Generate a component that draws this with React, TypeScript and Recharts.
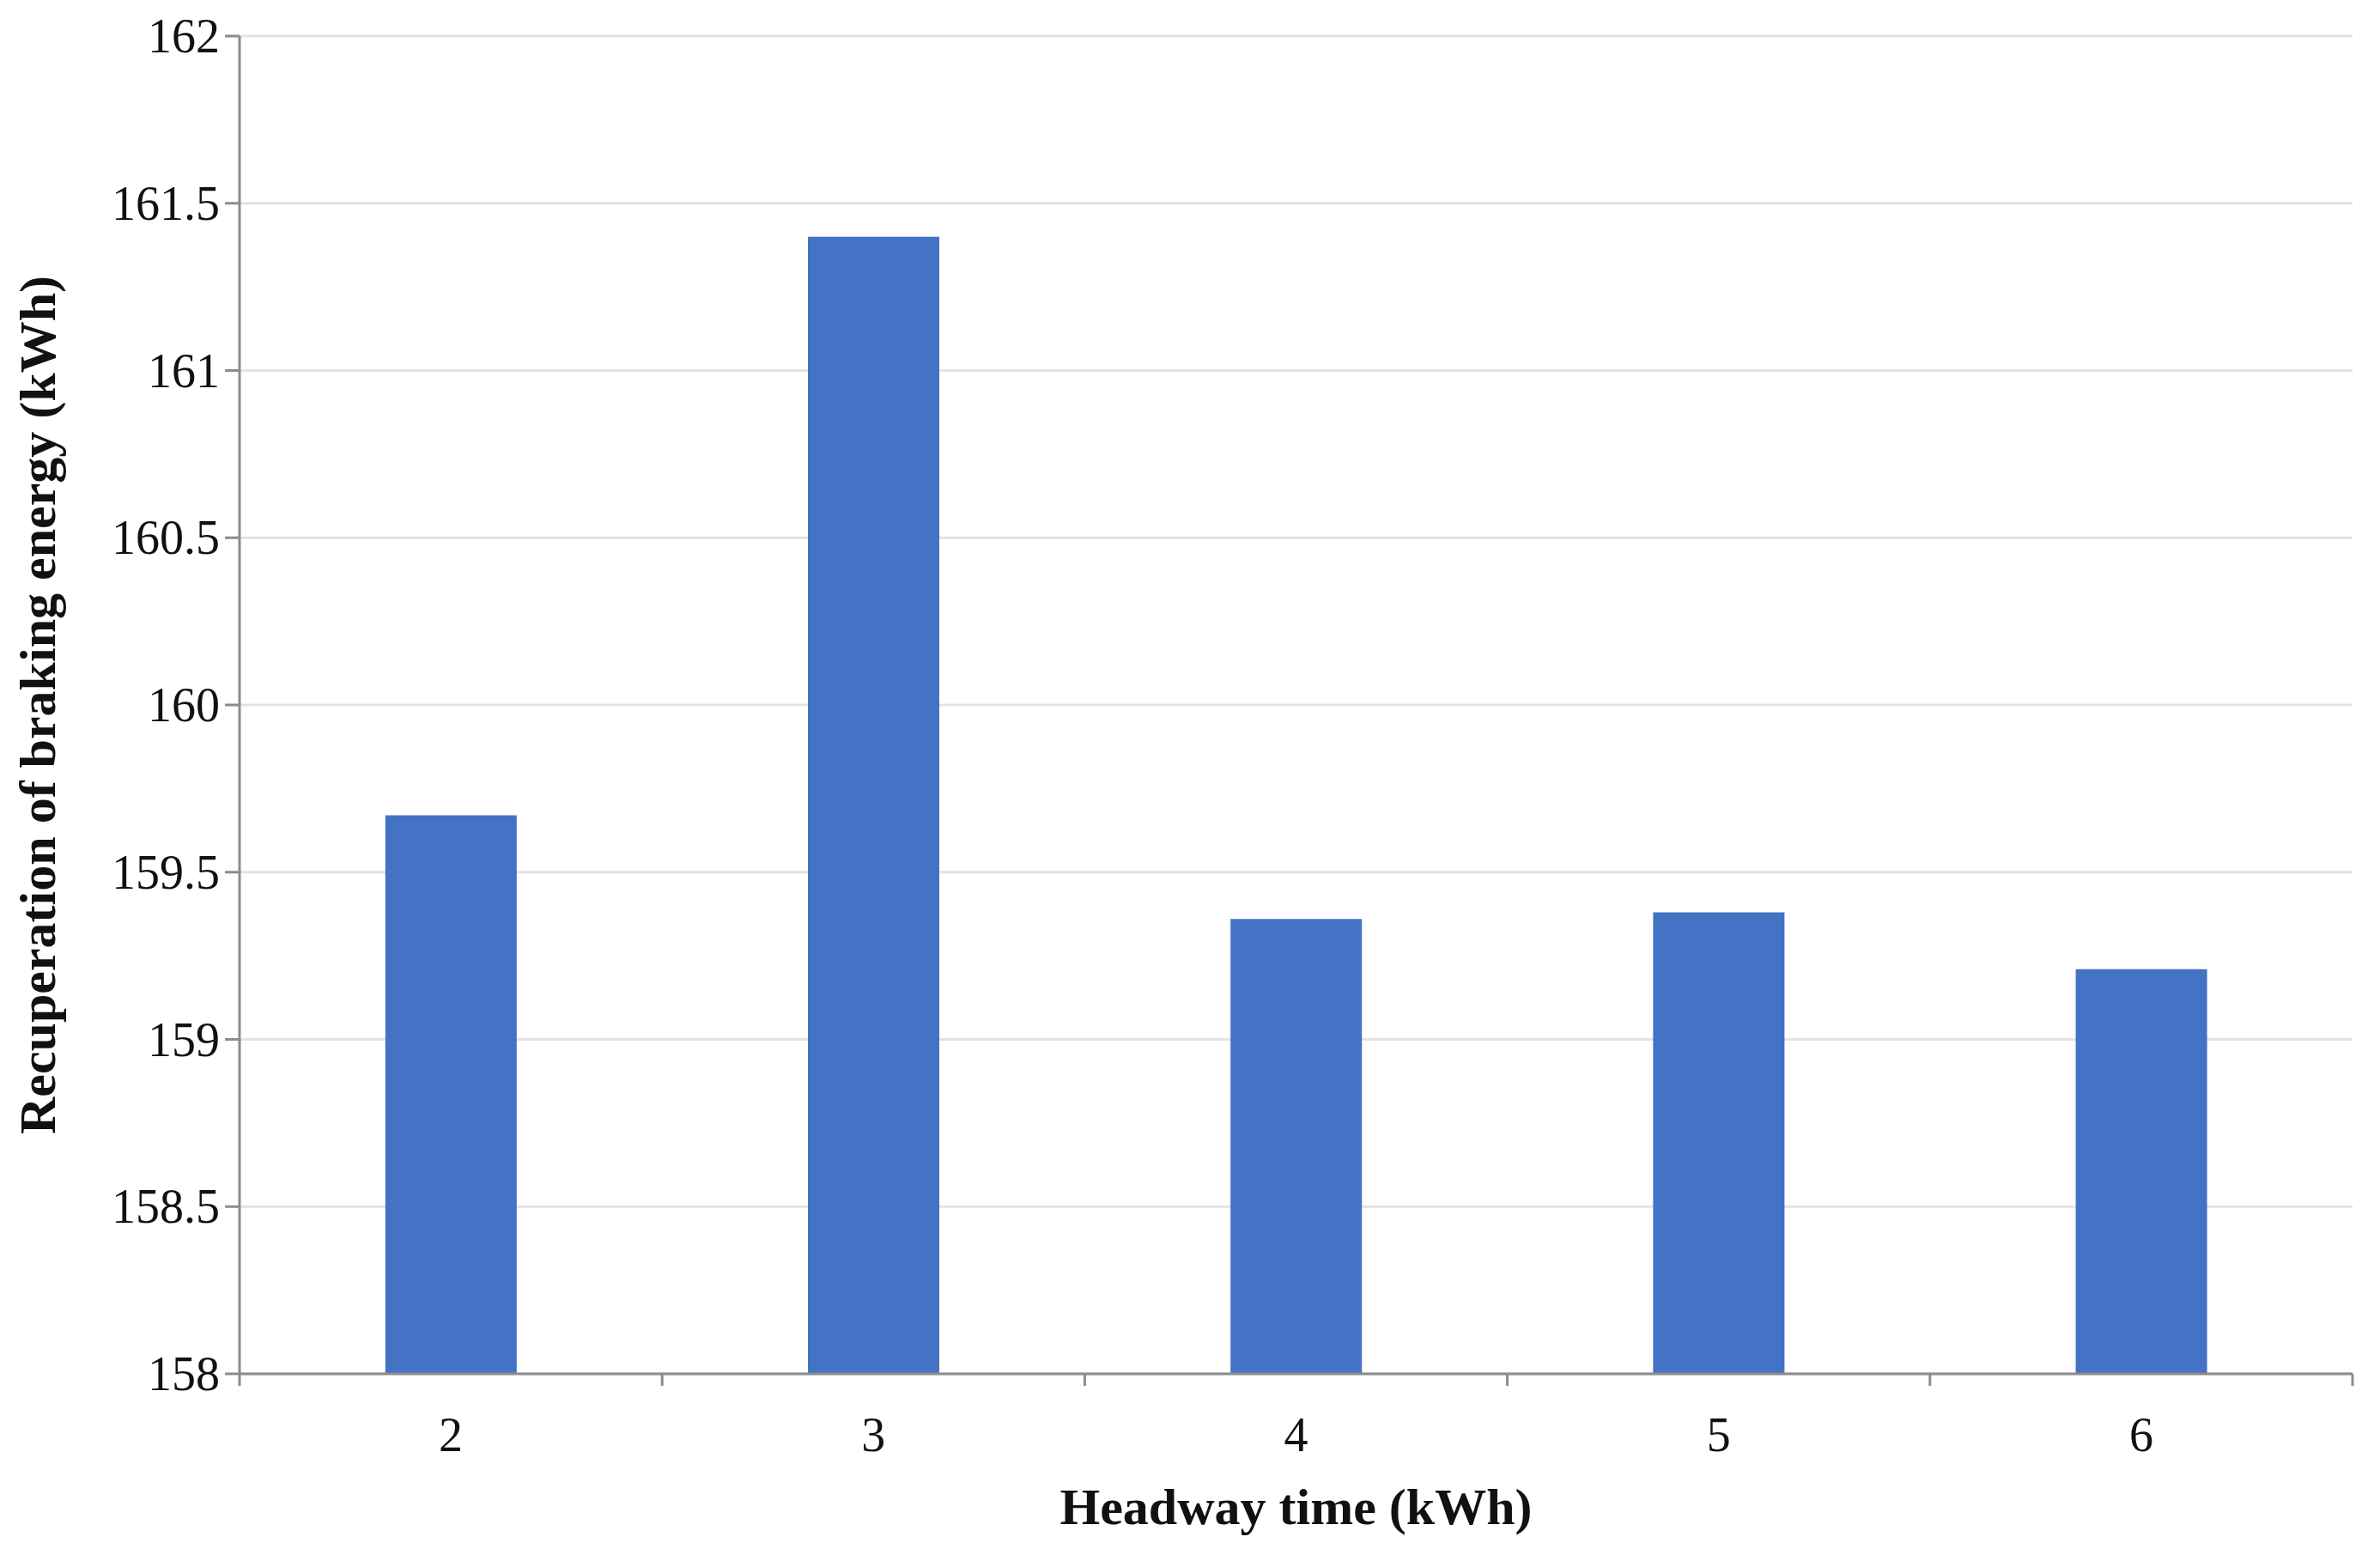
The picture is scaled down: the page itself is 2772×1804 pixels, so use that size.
import React from 'react';
import { BarChart, Bar, XAxis, YAxis, CartesianGrid } from 'recharts';

const headways = ['2', '3', '4', '5', '6'];
const recuperation = [159.67, 161.4, 159.36, 159.38, 159.21];
const yTicks = [158, 158.5, 159, 159.5, 160, 160.5, 161, 161.5, 162];

const data = headways.map((h, i) => ({ headway: h, value: recuperation[i] }));

const FONT = '"Liberation Serif", "Times New Roman", serif';
const AXIS_COLOR = '#8c8c8c';

const XTick = (props: any) => {
  const { x, y, payload, index, visibleTicksCount } = props;
  const off = payload.offset || 0;
  const last = index === (visibleTicksCount ?? headways.length) - 1;
  return (
    <g>
      <line x1={x - off} x2={x - off} y1={y} y2={y + 14} stroke={AXIS_COLOR} strokeWidth={3} />
      {last && <line x1={x + off} x2={x + off} y1={y} y2={y + 14} stroke={AXIS_COLOR} strokeWidth={3} />}
      <text x={x} y={y + 71} textAnchor="middle" dominantBaseline="central" fontFamily={FONT} fontSize={56} fill="#111">
        {payload.value}
      </text>
    </g>
  );
};

const YTick = (props: any) => {
  const { x, y, payload } = props;
  return (
    <text x={x} y={y} textAnchor="end" dominantBaseline="central" fontFamily={FONT} fontSize={56} fill="#111">
      {payload.value}
    </text>
  );
};

export default function App() {
  return (
    <div style={{ width: 2756, height: 1788, background: '#fff' }}>
      <BarChart
        width={2756}
        height={1788}
        data={data}
        margin={{ top: 34, right: 24, left: 0, bottom: 0 }}
        barCategoryGap="34.5%"
      >
        <CartesianGrid vertical={false} stroke="#e3e3e3" strokeWidth={3} />
        <XAxis
          dataKey="headway"
          height={196}
          axisLine={{ stroke: AXIS_COLOR, strokeWidth: 3 }}
          tickLine={false}
          tickSize={0}
          tickMargin={0}
          interval={0}
          tick={<XTick />}
          label={{
            content: (p: any) => {
              const vb = p.viewBox;
              return (
                <text x={vb.x + vb.width / 2} y={vb.y + 155} textAnchor="middle" dominantBaseline="central" fontFamily={FONT} fontSize={60} fontWeight="bold" fill="#111">
                  Headway time (kWh)
                </text>
              );
            },
          }}
        />
        <YAxis
          width={271}
          domain={[158, 162]}
          ticks={yTicks}
          interval={0}
          allowDataOverflow
          axisLine={{ stroke: AXIS_COLOR, strokeWidth: 3 }}
          tickLine={{ stroke: AXIS_COLOR, strokeWidth: 3 }}
          tickSize={17}
          tickMargin={6}
          tick={<YTick />}
          label={{
            content: (p: any) => {
              const vb = p.viewBox;
              const cx = vb.x + 36;
              const cy = vb.y + vb.height / 2;
              return (
                <text x={cx} y={cy} transform={`rotate(-90 ${cx} ${cy})`} textAnchor="middle" dominantBaseline="central" fontFamily={FONT} fontSize={60} fontWeight="bold" fill="#111">
                  Recuperation of braking energy (kWh)
                </text>
              );
            },
          }}
        />
        <Bar dataKey="value" fill="#4472C4" isAnimationActive={false} />
      </BarChart>
    </div>
  );
}
